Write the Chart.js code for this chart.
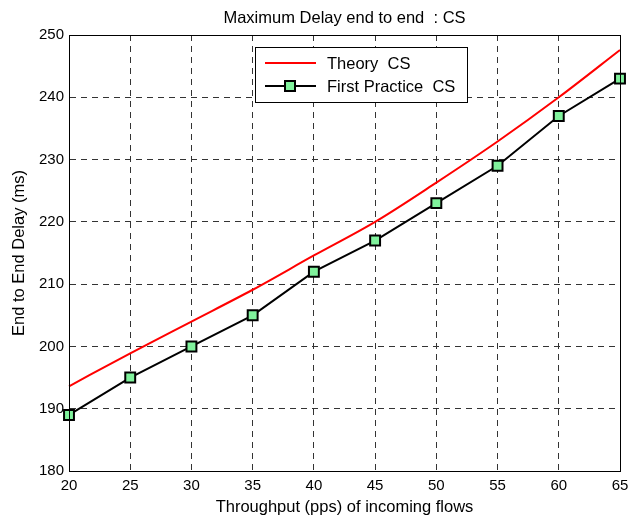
<!DOCTYPE html>
<html>
<head>
<meta charset="utf-8">
<script src="https://cdn.jsdelivr.net/npm/chart.js@4/dist/chart.umd.min.js"></script>
<style>
  html, body { margin: 0; padding: 0; background: #fff; }
  #wrap { width: 629px; height: 519px; }
</style>
</head>
<body>
<div id="wrap"><canvas id="c" width="629" height="519"></canvas></div>
<script>
const throughput = [20, 25, 30, 35, 40, 45, 50, 55, 60, 65];
const theoryCS = [193.6, 198.9, 204.0, 209.1, 214.6, 220.0, 226.3, 232.9, 240.0, 247.6];
const practiceCS = [189, 195, 200, 205, 212, 217, 223, 229, 237, 243];
const xTicks = [20, 25, 30, 35, 40, 45, 50, 55, 60, 65];
const yTicks = [180, 190, 200, 210, 220, 230, 240, 250];
const seriesLabels = ['Theory  CS', 'First Practice  CS'];
const titleText = 'Maximum Delay end to end  : CS';
const xTitle = 'Throughput (pps) of incoming flows';
const yTitle = 'End to End Delay (ms)';

const FONT = 'Liberation Sans, Arial, Helvetica, sans-serif';
const MARKER_FILL = '#80F29C';

const frameLegend = {
  id: 'frameLegend',
  afterDraw(chart) {
    const ctx = chart.ctx;
    const a = chart.chartArea;
    ctx.save();
    // title
    ctx.fillStyle = '#000';
    ctx.font = '16.5px ' + FONT;
    ctx.textAlign = 'center';
    ctx.textBaseline = 'middle';
    ctx.fillText(chart.options.plugins.title.text, (a.left + a.right) / 2, 18);
    ctx.textAlign = 'left';
    // frame
    ctx.strokeStyle = '#000';
    ctx.lineWidth = 1;
    ctx.setLineDash([]);
    ctx.strokeRect(Math.round(a.left) + 0.5, Math.round(a.top) + 0.5,
                   Math.round(a.right - a.left), Math.round(a.bottom - a.top));
    // legend box
    const bx = 255, by = 47, bw = 212, bh = 55;
    ctx.fillStyle = '#fff';
    ctx.fillRect(bx, by, bw, bh);
    ctx.strokeRect(bx + 0.5, by + 0.5, bw, bh);
    const ds = chart.data.datasets;
    const rows = [63, 86];
    ctx.font = '16.5px ' + FONT;
    ctx.textBaseline = 'middle';
    ds.forEach((d, i) => {
      const y = rows[i];
      ctx.strokeStyle = d.borderColor;
      ctx.lineWidth = 2;
      ctx.beginPath();
      ctx.moveTo(265, y);
      ctx.lineTo(316, y);
      ctx.stroke();
      if (d.pointRadius > 0) {
        const s = 10;
        ctx.fillStyle = d.pointBackgroundColor;
        ctx.fillRect(290 - s / 2, y - s / 2, s, s);
        ctx.lineWidth = 2;
        ctx.strokeStyle = '#000';
        ctx.strokeRect(290 - s / 2, y - s / 2, s, s);
      }
      ctx.fillStyle = '#000';
      ctx.fillText(d.label, 327, y + 1);
    });
    ctx.restore();
  }
};

new Chart(document.getElementById('c'), {
  type: 'line',
  data: {
    datasets: [
      {
        label: seriesLabels[0],
        data: throughput.map((x, i) => ({ x: x, y: theoryCS[i] })),
        borderColor: '#ff0000',
        borderWidth: 2,
        pointRadius: 0,
        cubicInterpolationMode: 'monotone',
        fill: false,
        clip: false
      },
      {
        label: seriesLabels[1],
        data: throughput.map((x, i) => ({ x: x, y: practiceCS[i] })),
        borderColor: '#000000',
        borderWidth: 2,
        pointStyle: 'rect',
        pointRadius: 7,
        pointBorderWidth: 2,
        pointBorderColor: '#000000',
        pointBackgroundColor: MARKER_FILL,
        tension: 0,
        fill: false,
        clip: false
      }
    ]
  },
  options: {
    responsive: false,
    animation: false,
    devicePixelRatio: 1,
    layout: { padding: { left: 0, right: 9, top: 35, bottom: 0 } },
    plugins: {
      legend: { display: false },
      tooltip: { enabled: false },
      title: { display: false, text: titleText }
    },
    scales: {
      x: {
        type: 'linear',
        min: 20, max: 65,
        afterBuildTicks: (s) => { s.ticks = xTicks.map(v => ({ value: v })); },
        afterFit: (s) => { s.height = 48; s.paddingLeft = 0; s.paddingRight = 0; },
        ticks: { color: '#000', font: { family: FONT, size: 15 }, padding: 6, maxRotation: 0 },
        grid: { color: '#333', lineWidth: 1, drawTicks: false },
        border: { display: true, color: '#000', width: 1, dash: [6, 5] },
        title: {
          display: true, text: xTitle, color: '#000',
          font: { family: FONT, size: 16.5 }, padding: { top: 0, bottom: 2 }
        }
      },
      y: {
        type: 'linear',
        min: 180, max: 250,
        afterBuildTicks: (s) => { s.ticks = yTicks.map(v => ({ value: v })); },
        afterFit: (s) => { s.width = 69; s.paddingTop = 0; s.paddingBottom = 0; },
        ticks: { color: '#000', font: { family: FONT, size: 15 }, padding: 5 },
        grid: { color: '#333', lineWidth: 1, drawTicks: false },
        border: { display: true, color: '#000', width: 1, dash: [6, 5] },
        title: {
          display: true, text: yTitle, color: '#000',
          font: { family: FONT, size: 16.5 }, padding: { top: 10, bottom: 0 }
        }
      }
    }
  },
  plugins: [frameLegend]
});
</script>
</body>
</html>
